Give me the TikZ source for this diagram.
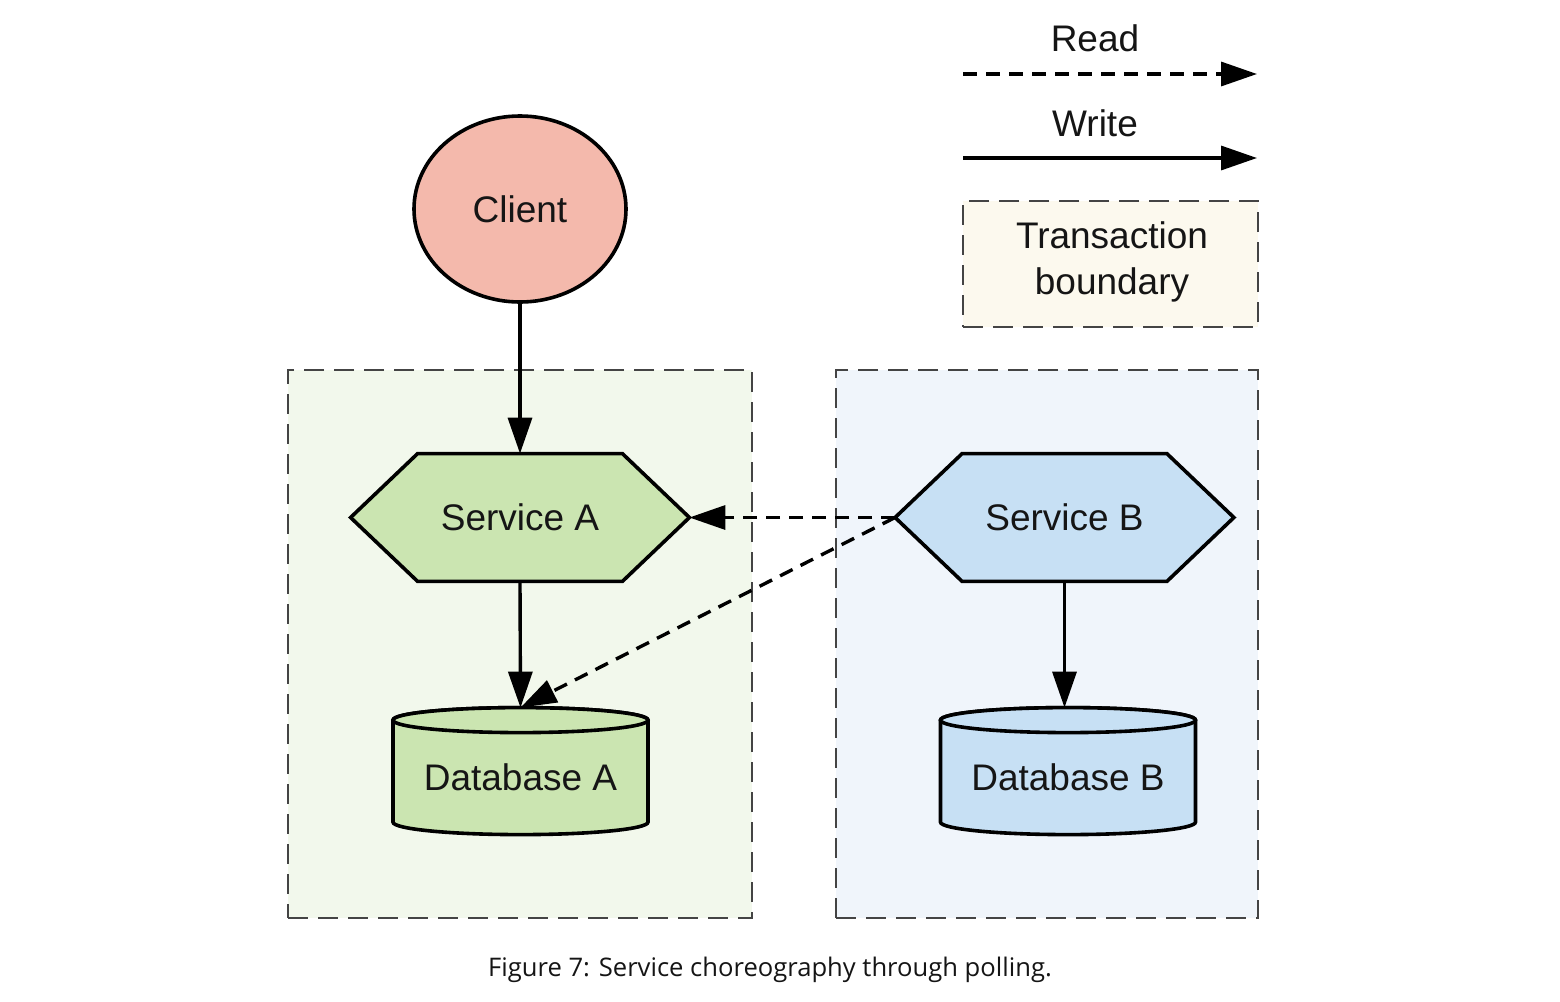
\documentclass[tikz,border=0pt]{standalone}
\usepackage{fontspec}
\setmainfont{Liberation Sans}
\newfontfamily\captionfont{Open Sans}
\usetikzlibrary{arrows.meta,shapes.geometric}
\pgfdeclarelayer{back}
\pgfdeclarelayer{mid}
\pgfsetlayers{back,mid,main}
\definecolor{inkdark}{HTML}{151515}
\definecolor{clientfill}{HTML}{F4B9AC}
\definecolor{greenfill}{HTML}{CBE5B1}
\definecolor{bluefill}{HTML}{C7E0F4}
\definecolor{greenzone}{HTML}{F2F8EC}
\definecolor{bluezone}{HTML}{F0F5FB}
\definecolor{legendzone}{HTML}{FCF9EE}
\definecolor{zoneline}{HTML}{444444}
\begin{document}
\begin{tikzpicture}[x=0.5pt,y=-0.5pt,
  every node/.style={font=\fontsize{18.5}{23}\selectfont, text=inkdark, inner sep=0pt},
  zone/.style={draw=zoneline, line width=1.2pt, dash pattern=on 10pt off 5pt, rectangle},
  client/.style={ellipse, draw=black, line width=1.8pt, fill=clientfill,
    minimum width=106pt, minimum height=93pt},
  hexbox/.style={rectangle, minimum width=169pt, minimum height=63.5pt},
  dbbox/.style={rectangle, minimum width=127.5pt, minimum height=69pt},
  hexline/.style={draw=black, line width=1.8pt, line join=miter},
  write/.style={draw=black, line width=1.7pt, -{Triangle[length=18pt,width=12pt]}},
  read/.style={write, dash pattern=on 7pt off 4.5pt},
]
\useasboundingbox (0,0) rectangle (1560,1002);

% transaction boundaries
\begin{pgfonlayer}{back}
  \fill[white] (0,0) rectangle (1560,1002);
  \node[zone, fill=greenzone, minimum width=232pt, minimum height=274pt] (zoneA) at (520,644) {};
  \node[zone, fill=bluezone, minimum width=211pt, minimum height=274pt] (zoneB) at (1047,644) {};
  \node[zone, fill=legendzone, minimum width=147.5pt, minimum height=63pt] (legendbox) at (1110.5,264) {};
\end{pgfonlayer}
\node[align=center] (legendtext) at (1112,262) {Transaction\\boundary};

% client
\node[client] (client) at (520,209) {Client};

% services
\node[hexbox] (sa) at (520,517.5) {Service A};
\node[hexbox] (sb) at (1064.5,517.5) {Service B};

% databases
\node[dbbox] (dba) at (520.5,777) {Database A};
\node[dbbox] (dbb) at (1068,777) {Database B};

\begin{pgfonlayer}{mid}
  \foreach \n/\c in {sa/greenfill, sb/bluefill} {
    \path[hexline, fill=\c] (\n.west) -- ([xshift=33.5pt]\n.north west)
      -- ([xshift=-33.5pt]\n.north east) -- (\n.east)
      -- ([xshift=-33.5pt]\n.south east) -- ([xshift=33.5pt]\n.south west) -- cycle;
  }
  \foreach \n/\c in {dba/greenfill, dbb/bluefill} {
    \path[hexline, fill=\c] ([yshift=-6.25pt]\n.north) ++(-63.75pt,0) -- ++(0,-51pt)
      arc[start angle=180, end angle=360, x radius=63.75pt, y radius=6.25pt]
      -- ++(0,51pt)
      arc[start angle=0, end angle=180, x radius=63.75pt, y radius=6.25pt] -- cycle;
    \path[hexline, fill=\c] ([yshift=-6.25pt]\n.north) ellipse[x radius=63.75pt, y radius=6.25pt];
  }
\end{pgfonlayer}

% writes
\draw[write] (client.south) -- (sa.north);
\draw[write] (sa.south) -- (dba.north);
\draw[write] (sb.south) -- (sb.south |- dbb.north);

% polling reads
\draw[read] (sb.west) -- (sa.east);
\draw[read] (sb.west) -- (dba.north);

% legend
\coordinate (readstart) at (963,74);
\coordinate (readend) at (1257,74);
\coordinate (writestart) at (963,158);
\coordinate (writeend) at (1257,158);
\node (readlabel) at (1095,38) {Read};
\node (writelabel) at (1095,123) {Write};
\draw[read] (readstart) -- (readend);
\draw[write] (writestart) -- (writeend);

% caption
\node[font=\captionfont\fontsize{12.8}{16}\selectfont, text=inkdark] (caption) at (770,970)
  {Figure 7: Service choreography through polling.};
\end{tikzpicture}
\end{document}
